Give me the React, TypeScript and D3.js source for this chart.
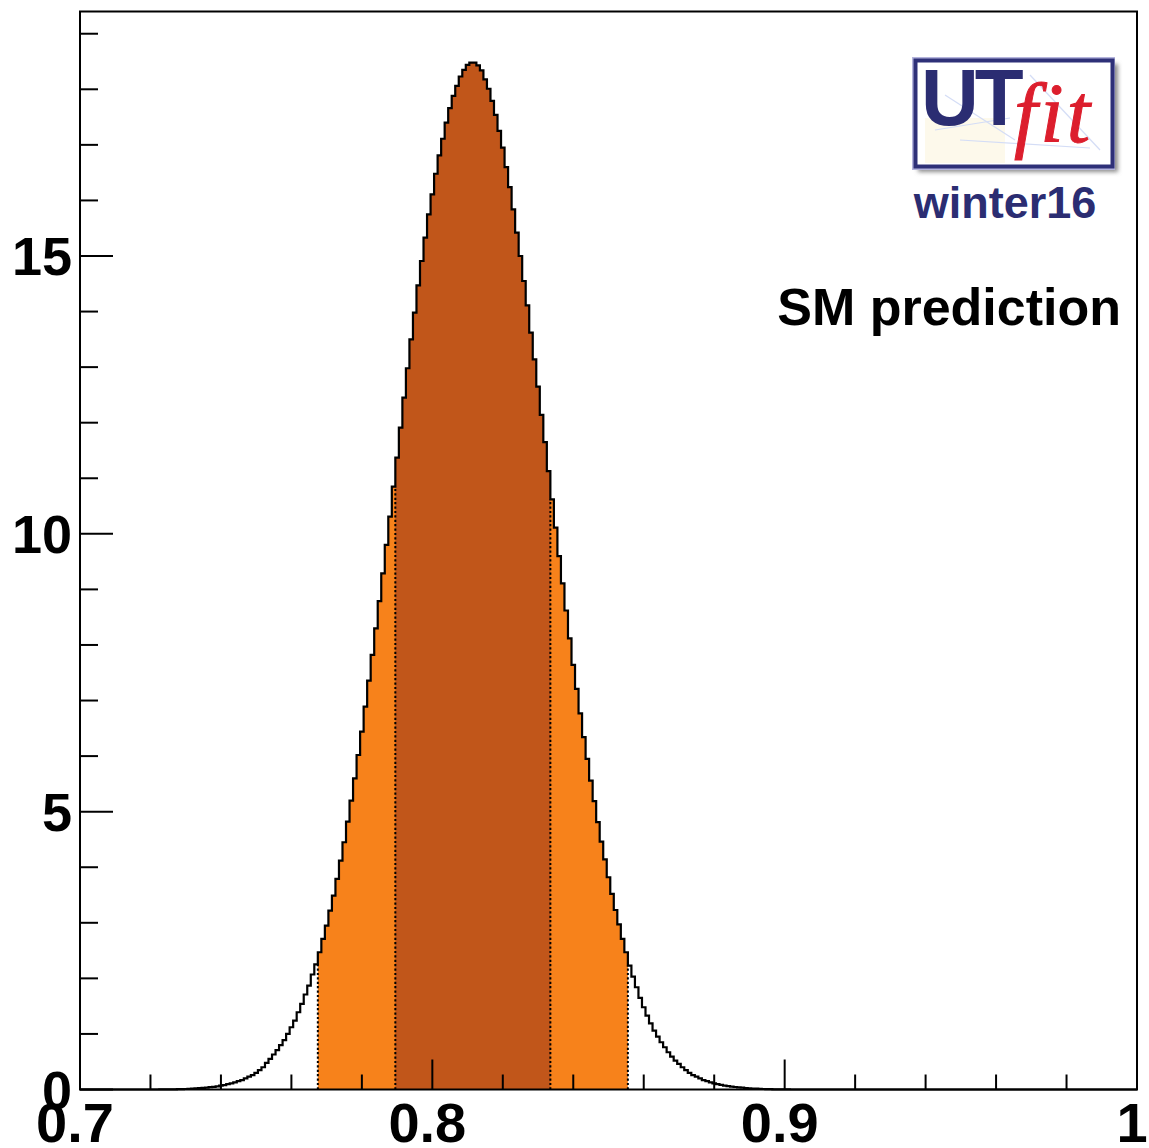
import React, { useEffect, useRef } from 'react';
import * as d3 from 'd3';

// histogram binning (bin edges sit on the half-permille grid)
const BIN_START = 0.7225;
const BIN_WIDTH = 0.001;

// probability density per bin, from 0.7225 up to 0.9015
const density = [
  0.001, 0.0015, 0.002, 0.003, 0.004, 0.005, 0.007, 0.009, 0.012, 0.015,
  0.019, 0.023, 0.028, 0.034, 0.041, 0.049, 0.058, 0.068, 0.08, 0.095,
  0.11, 0.13, 0.15, 0.17, 0.20, 0.23, 0.26, 0.30, 0.35,
  0.40, 0.48, 0.55, 0.63, 0.71, 0.80, 0.89, 1.00, 1.12, 1.24,
  1.39, 1.54, 1.71, 1.87, 2.07, 2.25, 2.47, 2.71, 2.95, 3.22,
  3.49, 3.79, 4.12, 4.45, 4.82, 5.20, 5.60, 6.02, 6.44, 6.89, 7.36,
  7.82, 8.30, 8.79, 9.29, 9.80, 10.31, 10.85, 11.37, 11.91, 12.45,
  12.98, 13.50, 13.98, 14.47, 14.91, 15.33, 15.75, 16.11, 16.48, 16.81,
  17.11, 17.40, 17.66, 17.88, 18.06, 18.23, 18.35, 18.44, 18.48, 18.48,
  18.43, 18.34, 18.18, 18.01, 17.79, 17.54, 17.25, 16.95, 16.60, 16.24,
  15.84, 15.42, 15.00, 14.55, 14.11, 13.62, 13.14, 12.65, 12.14, 11.65,
  11.13, 10.62, 10.11, 9.60, 9.11, 8.62, 8.12, 7.64, 7.21, 6.77,
  6.34, 5.95, 5.56, 5.19, 4.81, 4.46, 4.14, 3.82, 3.52, 3.23,
  2.97, 2.71, 2.47, 2.23, 2.03, 1.84, 1.65, 1.48, 1.33, 1.19,
  1.06, 0.95, 0.85, 0.76, 0.67, 0.59, 0.52, 0.46, 0.40,
  0.35, 0.30, 0.26, 0.23, 0.20, 0.17, 0.15, 0.13, 0.11, 0.095,
  0.082, 0.07, 0.06, 0.052, 0.045, 0.038, 0.032, 0.027, 0.022, 0.018,
  0.015, 0.012, 0.009, 0.007, 0.005, 0.004, 0.003, 0.002, 0.0015, 0.001,
];

// shaded probability intervals
const interval68 = [0.7895, 0.8335];
const interval95 = [0.7675, 0.8555];

const xMajorTicks = [0.7, 0.8, 0.9, 1.0];
const xTickLabels = ['0.7', '0.8', '0.9', '1'];
const yMajorTicks = [0, 5, 10, 15];
const yTickLabels = ['0', '5', '10', '15'];
const Y_MAX = 19.4;

const DARK = '#c1561a';
const ORANGE = '#f7821b';
const NAVY = '#2b2d72';

interface Bin { x0: number; x1: number; v: number; }

const App: React.FC = () => {
  const ref = useRef<SVGSVGElement | null>(null);

  useEffect(() => {
    const width = 1149;
    const height = 1148;
    const font = "'Liberation Sans', Arial, Helvetica, sans-serif";

    const svg = d3.select(ref.current)
      .attr('width', width)
      .attr('height', height)
      .attr('viewBox', `0 0 ${width} ${height}`)
      .style('position', 'absolute')
      .style('left', '0px')
      .style('top', '0px')
      .style('background', '#ffffff');
    svg.selectAll('*').remove();

    const x = d3.scaleLinear().domain([0.7, 1.0]).range([80, 1137]);
    const y = d3.scaleLinear().domain([0, Y_MAX]).range([1089.5, 11.5]);

    const bins: Bin[] = density.map((v, i) => ({
      x0: BIN_START + i * BIN_WIDTH,
      x1: BIN_START + (i + 1) * BIN_WIDTH,
      v,
    }));
    const steps = (bs: Bin[]) => bs.flatMap(b => [[b.x0, b.v], [b.x1, b.v]] as [number, number][]);
    const inside = (b: Bin, r: number[]) => b.x0 >= r[0] - 1e-6 && b.x1 <= r[1] + 1e-6;

    const area = d3.area<[number, number]>()
      .x(d => x(d[0]))
      .y0(y(0))
      .y1(d => y(d[1]));

    svg.append('path')
      .attr('d', area(steps(bins.filter(b => inside(b, interval95)))))
      .attr('fill', ORANGE);
    svg.append('path')
      .attr('d', area(steps(bins.filter(b => inside(b, interval68)))))
      .attr('fill', DARK);

    // dotted edges of the intervals
    [interval95[0], interval68[0], interval68[1], interval95[1]].forEach(e => {
      const left = bins.find(b => Math.abs(b.x1 - e) < 1e-6);
      const right = bins.find(b => Math.abs(b.x0 - e) < 1e-6);
      const h = Math.min(left ? left.v : 0, right ? right.v : 0);
      svg.append('line')
        .attr('x1', x(e)).attr('x2', x(e))
        .attr('y1', y(0)).attr('y2', y(h))
        .attr('stroke', '#000')
        .attr('stroke-width', 2)
        .attr('stroke-dasharray', '2.2 2.2');
    });

    // histogram outline
    const outline: [number, number][] = [
      [0.7, 0],
      [BIN_START, 0],
      ...steps(bins),
      [bins[bins.length - 1].x1, 0],
      [1.0, 0],
    ];
    const line = d3.line<[number, number]>().x(d => x(d[0])).y(d => y(d[1]));
    svg.append('path')
      .attr('d', line(outline))
      .attr('fill', 'none')
      .attr('stroke', '#000')
      .attr('stroke-width', 2.2);

    // frame
    svg.append('rect')
      .attr('x', x(0.7)).attr('y', y(Y_MAX))
      .attr('width', x(1.0) - x(0.7))
      .attr('height', y(0) - y(Y_MAX))
      .attr('fill', 'none')
      .attr('stroke', '#000')
      .attr('stroke-width', 2);

    // x ticks
    const xMinor = d3.range(0, 16).map(i => 0.7 + i * 0.02);
    svg.append('g').selectAll('line')
      .data(xMinor)
      .join('line')
        .attr('x1', d => x(d)).attr('x2', d => x(d))
        .attr('y1', y(0))
        .attr('y2', d => y(0) - (xMajorTicks.some(m => Math.abs(m - d) < 1e-6) ? 30 : 15))
        .attr('stroke', '#000')
        .attr('stroke-width', 2);

    svg.append('g').selectAll('text')
      .data(xMajorTicks)
      .join('text')
        .attr('x', d => x(d) - 5)
        .attr('y', 1142)
        .attr('text-anchor', 'middle')
        .style('font-family', font)
        .style('font-weight', 'bold')
        .style('font-size', '56px')
        .text((d, i) => xTickLabels[i]);

    // y ticks
    const yMinor = d3.range(0, 20);
    svg.append('g').selectAll('line')
      .data(yMinor)
      .join('line')
        .attr('x1', x(0.7))
        .attr('x2', d => x(0.7) + (d % 5 === 0 ? 33 : 18))
        .attr('y1', d => y(d)).attr('y2', d => y(d))
        .attr('stroke', '#000')
        .attr('stroke-width', 2);

    svg.append('g').selectAll('text')
      .data(yMajorTicks)
      .join('text')
        .attr('x', 72)
        .attr('y', d => y(d) + 19)
        .attr('text-anchor', 'end')
        .style('font-family', font)
        .style('font-weight', 'bold')
        .style('font-size', '54px')
        .text((d, i) => yTickLabels[i]);

    // UTfit logo
    const defs = svg.append('defs');
    defs.append('filter').attr('id', 'logoBlur')
      .append('feGaussianBlur').attr('stdDeviation', 2);

    const logo = svg.append('g');
    logo.append('rect')
      .attr('x', 918).attr('y', 64).attr('width', 200).attr('height', 108)
      .attr('fill', '#8c8c8c')
      .attr('filter', 'url(#logoBlur)');
    logo.append('rect')
      .attr('x', 913).attr('y', 58).attr('width', 201).attr('height', 111)
      .attr('fill', '#ffffff')
      .attr('stroke', '#b4b4dc')
      .attr('stroke-width', 2);
    logo.append('rect')
      .attr('x', 925).attr('y', 118).attr('width', 80).attr('height', 45)
      .attr('fill', '#fdf7e6')
      .attr('opacity', 0.8);
    [[935, 130, 1010, 118], [945, 95, 1015, 140], [1030, 75, 1100, 150], [960, 140, 1090, 148]]
      .forEach(([a, b, c, d]) => {
        logo.append('line')
          .attr('x1', a).attr('y1', b).attr('x2', c).attr('y2', d)
          .attr('stroke', '#d4ddf6')
          .attr('stroke-width', 1.2);
      });
    logo.append('rect')
      .attr('x', 915.5).attr('y', 60.5).attr('width', 197).attr('height', 106)
      .attr('fill', 'none')
      .attr('stroke', '#2e3078')
      .attr('stroke-width', 4);
    logo.append('text')
      .attr('x', 921).attr('y', 125)
      .style('font-family', font)
      .style('font-weight', 'bold')
      .style('font-size', '80px')
      .style('letter-spacing', '-4px')
      .attr('fill', NAVY)
      .text('UT');
    logo.append('text')
      .attr('x', 1014).attr('y', 142)
      .style('font-family', "'Liberation Serif', 'Times New Roman', serif")
      .style('font-style', 'italic')
      .style('font-size', '84px')
      .style('letter-spacing', '3px')
      .attr('fill', '#dc1e2d')
      .attr('stroke', '#dc1e2d')
      .attr('stroke-width', 1)
      .text('fit');

    svg.append('text')
      .attr('x', 1005).attr('y', 218)
      .attr('text-anchor', 'middle')
      .style('font-family', font)
      .style('font-weight', 'bold')
      .style('font-size', '45px')
      .attr('fill', NAVY)
      .text('winter16');

    svg.append('text')
      .attr('x', 1121).attr('y', 325)
      .attr('text-anchor', 'end')
      .style('font-family', font)
      .style('font-weight', 'bold')
      .style('font-size', '52px')
      .attr('fill', '#000')
      .text('SM prediction');
  }, []);

  return (
    <svg ref={ref}></svg>
  );
};

export default App;
